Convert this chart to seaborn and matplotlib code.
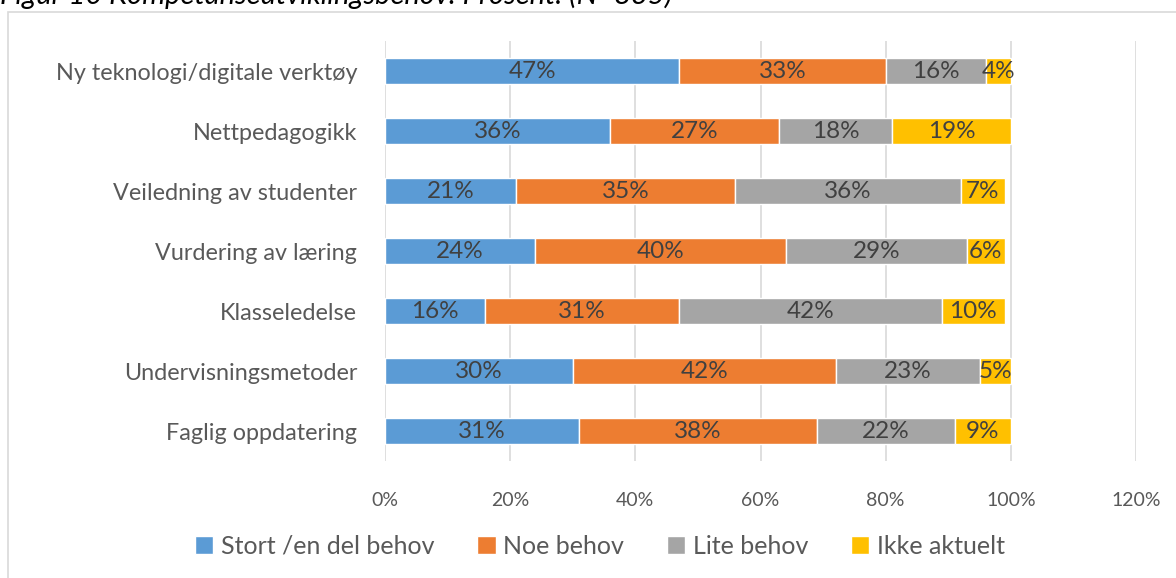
import pandas as pd
import seaborn as sns
import matplotlib.pyplot as plt
from matplotlib.patches import Rectangle
from matplotlib.ticker import FuncFormatter

categories = ['Ny teknologi/digitale verktøy', 'Nettpedagogikk', 'Veiledning av studenter',
              'Vurdering av læring', 'Klasseledelse', 'Undervisningsmetoder', 'Faglig oppdatering']
series = ['Stort /en del behov', 'Noe behov', 'Lite behov', 'Ikke aktuelt']
stort = [47, 36, 21, 24, 16, 30, 31]
noe = [33, 27, 35, 40, 31, 42, 38]
lite = [16, 18, 36, 29, 42, 23, 22]
ikke = [4, 19, 7, 6, 10, 5, 9]
colors = ['#5B9BD5', '#ED7D31', '#A5A5A5', '#FFC000']

df = pd.DataFrame({'Kategori': categories, series[0]: stort, series[1]: noe,
                   series[2]: lite, series[3]: ikke})

sns.set_style('white')
plt.rcParams['font.family'] = ['Lato', 'DejaVu Sans']

fig = plt.figure(figsize=(11.76, 5.78), dpi=100)
ax = fig.add_axes([0.3274, 0.2024, 0.6386, 0.7266])

left = [0] * len(categories)
for s, c in zip(series, colors):
    sns.barplot(data=df, x=s, y='Kategori', order=categories, color=c, width=0.42,
                saturation=1, left=left, ax=ax, label=s, zorder=3)
    cont = ax.containers[-1]
    ax.bar_label(cont, labels=[f'{v}%' for v in df[s]], label_type='center',
                 fontsize=17.5, color='#404040')
    left = [a + b for a, b in zip(left, df[s])]

ax.set_xlim(0, 120)
ax.set_xticks(range(0, 121, 20))
ax.xaxis.set_major_formatter(FuncFormatter(lambda v, p: f'{v:.0f}%'))
ax.grid(axis='x', color='#D9D9D9', linewidth=1.2, zorder=0)
ax.set_axisbelow(True)
for sp in ax.spines.values():
    sp.set_visible(False)
ax.set_xlabel('')
ax.set_ylabel('')
ax.tick_params(axis='x', length=0, pad=22, labelsize=14, labelcolor='#595959')
ax.tick_params(axis='y', length=0, pad=20, labelsize=16.8, labelcolor='#595959')

handles, labels = ax.get_legend_handles_labels()
fig.legend(handles, labels, loc='center', bbox_to_anchor=(0.51, 0.055), ncol=4,
           frameon=False, fontsize=18, labelcolor='#595959', handlelength=0.75,
           handleheight=0.75, handletextpad=0.3, columnspacing=1.7)
if ax.get_legend():
    ax.get_legend().remove()

fig.patches.append(Rectangle((8 / 1176, -0.05), 1.1, 1.05 - 12 / 578, transform=fig.transFigure,
                             fill=False, edgecolor='#D9D9D9', linewidth=1.2))
fig.text(0.0, 1 - 4 / 578, 'Figur 10 Kompetanseutviklingsbehov. Prosent. (N=835)',
         fontsize=21, style='italic', color='#000000', va='baseline', ha='left')

fig.savefig('out.png', dpi=100)
